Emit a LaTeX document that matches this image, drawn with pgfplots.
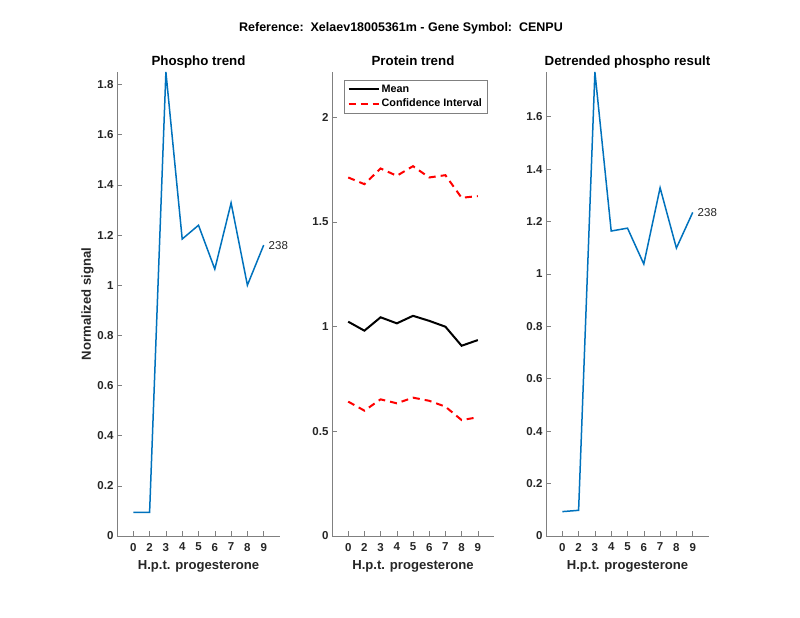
\documentclass[border=0pt]{standalone}
\usepackage{fontspec}
\setmainfont{Liberation Sans}
\usepackage{pgfplots}
\pgfplotsset{compat=1.18}
\definecolor{mblue}{rgb}{0,0.447,0.741}
\definecolor{axgray}{RGB}{128,128,128}
\definecolor{txtgray}{RGB}{38,38,38}
\pgfplotsset{
  every axis title shift=0pt,
  mystyle/.style={
    scale only axis,
    width=163pt, height=464pt,
    axis x line*=bottom, axis y line*=left,
    axis line style={axgray, line width=0.6pt},
    tick style={axgray, line width=0.6pt},
    tick align=inside,
    major tick length=4.5pt,
    xmin=0, xmax=10,
    xtick={1,...,9},
    xticklabels={0,2,3,4,5,6,7,8,9},
    /pgf/number format/assume math mode=true,
    tick label style={font=\fontsize{11.5}{13}\selectfont\bfseries, text=txtgray},
    xticklabel style={yshift=-3.5pt},
    label style={font=\fontsize{13.1}{15}\selectfont\bfseries, text=txtgray},
    xlabel style={at={(axis description cs:0.5,0)}, anchor=base, yshift=-34pt},
    ylabel style={yshift=-3pt},
    title style={font=\fontsize{13.3}{15}\selectfont\bfseries, at={(axis description cs:0.5,1)}, anchor=base, yshift=6.3pt},
    xlabel={H.p.t. progesterone},
    clip=false,
  }
}
\begin{document}
\begin{tikzpicture}[x=1pt,y=1pt]
\path[use as bounding box, fill=white] (0,0) rectangle (800,618);
\node[font=\fontsize{12.5}{15}\selectfont\bfseries, anchor=base] at (401,586.3) {Reference:\ \ Xelaev18005361m - Gene Symbol:\ \ CENPU};

\begin{axis}[mystyle, at={(117pt,82pt)}, anchor=south west,
  ymin=0, ymax=1.85, ytick={0,0.2,...,1.8},
  title={Phospho trend}, ylabel={Normalized signal}]
\addplot[mblue, line width=1.5pt] coordinates {
(1,0.094) (2,0.094) (3,1.85) (4,1.184) (5,1.239) (6,1.064) (7,1.328) (8,1.000) (9,1.160)};
\node[anchor=west, xshift=1.5pt, font=\fontsize{11.5}{13}\selectfont, text=txtgray] at (axis cs:9,1.160) {238};
\end{axis}

\begin{axis}[mystyle, at={(332pt,82pt)}, anchor=south west, width=162pt,
  ymin=0, ymax=2.217, ytick={0,0.5,1,1.5,2},
  title={Protein trend},
  legend style={at={(axis description cs:0.076,0.983)}, anchor=north west,
    font=\fontsize{10.8}{12}\selectfont\bfseries, draw=axgray, line width=0.6pt,
    inner xsep=3pt, inner ysep=2.5pt, row sep=1.5pt, text=black},
  legend cell align=left,
  legend image code/.code={\draw[#1] (0pt,0pt) -- (30pt,0pt);}]
\addplot[black, line width=2pt] coordinates {
(1,1.024) (2,0.981) (3,1.045) (4,1.016) (5,1.052) (6,1.028) (7,1.000) (8,0.909) (9,0.936)};
\addlegendentry{Mean}
\addplot[red, line width=2pt, dash pattern=on 7pt off 5pt] coordinates {
(1,1.713) (2,1.681) (3,1.756) (4,1.721) (5,1.767) (6,1.713) (7,1.724) (8,1.616) (9,1.624)};
\addlegendentry{Confidence Interval}
\addplot[red, line width=2pt, dash pattern=on 7pt off 5pt, forget plot] coordinates {
(1,0.642) (2,0.599) (3,0.653) (4,0.634) (5,0.661) (6,0.646) (7,0.618) (8,0.554) (9,0.567)};
\end{axis}

\begin{axis}[mystyle, at={(546pt,82pt)}, anchor=south west,
  ymin=0, ymax=1.771, ytick={0,0.2,...,1.6},
  title={Detrended phospho result}]
\addplot[mblue, line width=1.5pt] coordinates {
(1,0.093) (2,0.098) (3,1.771) (4,1.164) (5,1.175) (6,1.038) (7,1.329) (8,1.099) (9,1.235)};
\node[anchor=west, xshift=1.5pt, font=\fontsize{11.5}{13}\selectfont, text=txtgray] at (axis cs:9,1.235) {238};
\end{axis}
\end{tikzpicture}
\end{document}
